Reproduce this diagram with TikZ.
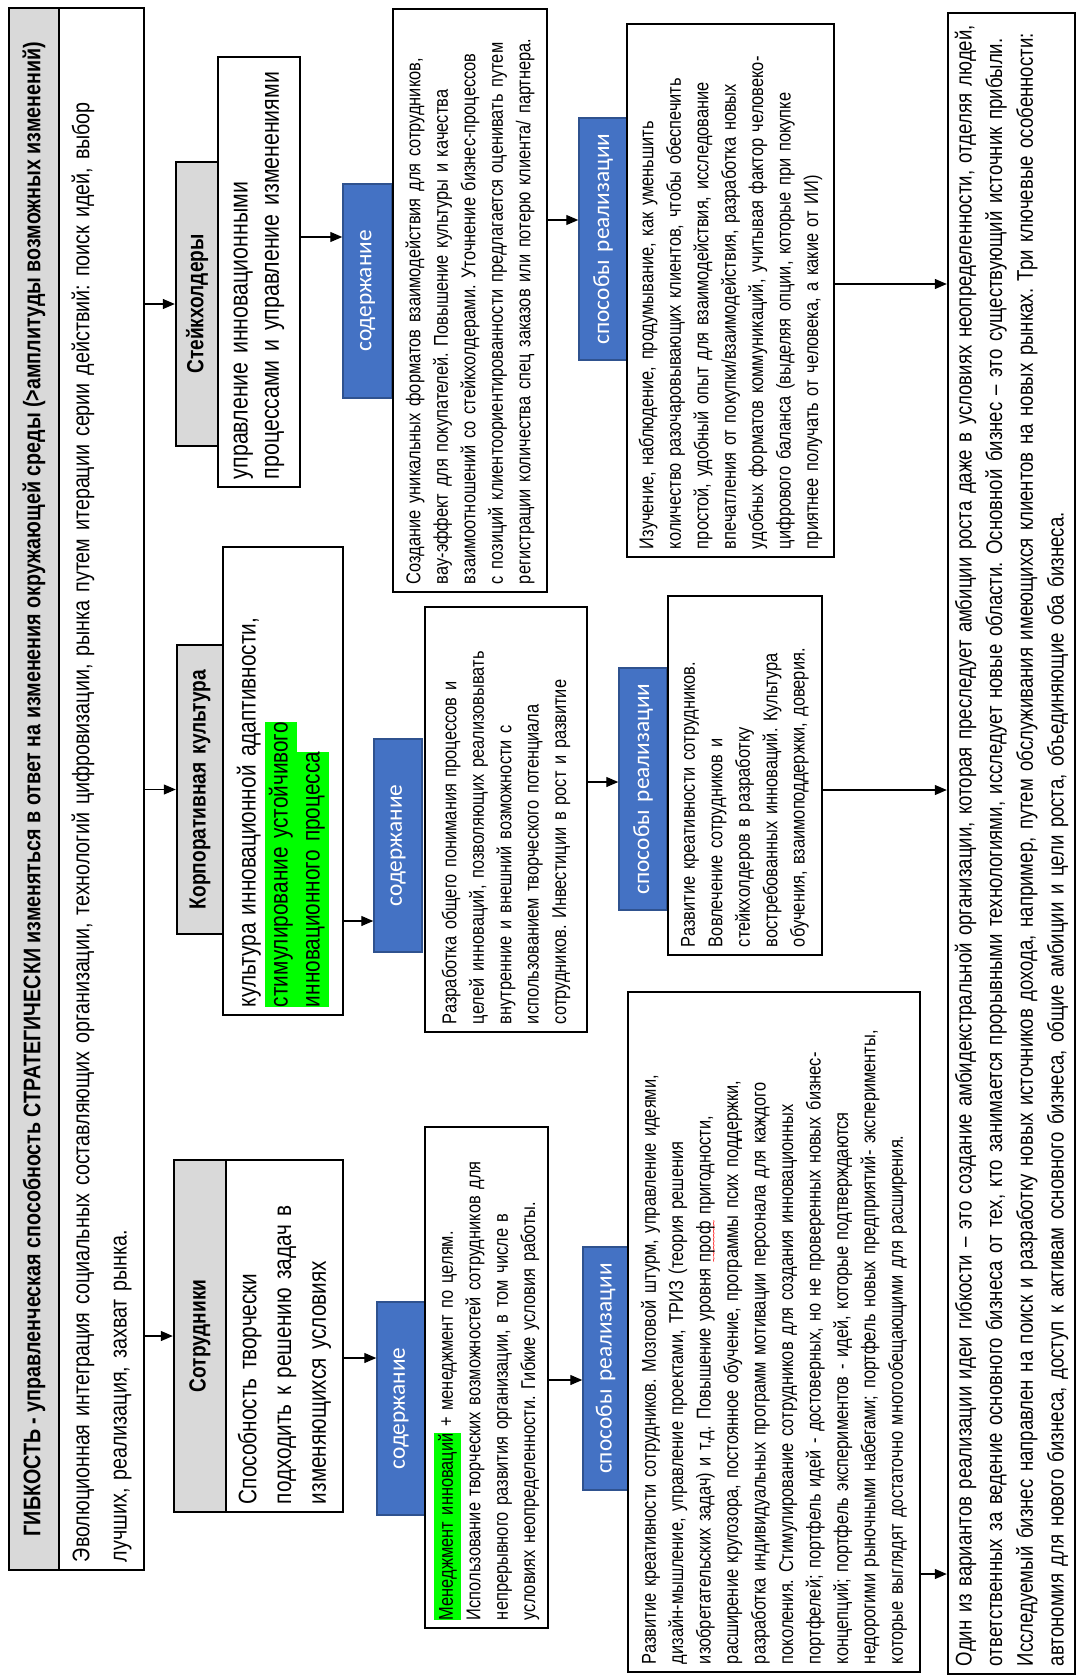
\documentclass[tikz,border=0pt]{standalone}
\usepackage{fontspec}
\setmainfont{Liberation Sans}[FakeStretch=0.82]
\newfontfamily\lblfont{Carlito}
\usetikzlibrary{arrows.meta}
\frenchspacing

\definecolor{hdrgray}{HTML}{D9D9D9}
\definecolor{tagblue}{HTML}{4472C4}
\definecolor{tagedge}{HTML}{2F528F}
\definecolor{hlgreen}{HTML}{00FF00}

% green text marker
\newcommand{\hlg}[1]{{\setlength{\fboxsep}{0pt}\colorbox{hlgreen}{\strut #1}}}
% red wavy spell-check mark under a word
\newlength\wavelen
\newcommand{\spellmark}[1]{\settowidth{\wavelen}{#1}\leavevmode
  \rlap{\raisebox{-5pt}{\textcolor{red}{\fontsize{8}{8}\selectfont
  \hbox to\wavelen{\xleaders\hbox{\textasciitilde\kern-0.8pt}\hfill}}}}#1}

% \panel{name}{style}{X1}{Y1}{X2}{Y2}{text}: a box read bottom-to-top,
% spanning X1..X2 across and Y1..Y2 along the text (pixel units, Y down)
\newcommand{\panel}[7]{%
  \pgfmathsetmacro\panelW{(#6-#4)*0.75}%
  \pgfmathsetmacro\panelH{(#5-#3)*0.75}%
  \pgfmathsetmacro\panelT{(#6-#4)*0.75-12}%
  \node[rotate=90, minimum width=\panelW pt, minimum height=\panelH pt,
        text width=\panelT pt, #2] (#1) at ({(#3+#5)/2},{(#4+#6)/2}) {#7};}

\tikzset{
  frame/.style={draw=black, line width=1.8pt, inner xsep=0pt, inner ysep=0pt},
  hdr/.style={frame, fill=hdrgray, align=center,
    font=\bfseries\fontsize{17.5}{20}\selectfont},
  box/.style={frame, fill=white, align=left,
    font=\fontsize{15}{20.6}\selectfont},
  tag/.style={draw=tagedge, line width=1.1pt, fill=tagblue, text=white,
    inner xsep=0pt, inner ysep=0pt, align=center,
    font=\lblfont\fontsize{17.5}{20}\selectfont},
  arr/.style={-{Triangle[length=9pt,width=7.5pt]}, line width=0.9pt}
}

\begin{document}
\begin{tikzpicture}[x=0.75pt, y=-0.75pt]
\useasboundingbox (0,0) rectangle (1078,1677);
\fill[white] (0,0) rectangle (1078,1677);

% ---- heading
\panel{titlebar}{hdr, text width={}, font=\bfseries\fontsize{18}{21}\selectfont}{9}{8}{59}{1570}{ГИБКОСТЬ - управленческая способность СТРАТЕГИЧЕСКИ изменяться в ответ на изменения окружающей среды (>амплитуды возможных изменений)}
\panel{titletext}{box, font=\fontsize{18}{28}\selectfont}{59}{8}{144}{1570}{Эволюционная интеграция социальных составляющих организации, технологий цифровизации, рынка путем итерации серии действий: поиск идей, выбор\\лучших, реализация, захват рынка.}

% ---- three directions
\panel{stakehdr}{hdr}{176}{162}{218}{446}{Стейкхолдеры}
\panel{stakecap}{box, font=\fontsize{19.5}{23.5}\selectfont}{218}{57}{300}{487}{управление инновационными\\процессами и управление изменениями}

\panel{culthdr}{hdr}{177}{645}{223}{934}{Корпоративная культура}
\panel{cultcap}{box, font=\fontsize{19}{24}\selectfont}{223}{547}{343}{1015}{культура инновационной адаптивности,\\\hlg{стимулирование устойчивого}\\\hlg{инновационного процесса}}

\panel{staffhdr}{hdr}{174}{1160}{226}{1512}{Сотрудники}
\panel{staffcap}{box, font=\fontsize{19}{26}\selectfont}{226}{1160}{343}{1512}{Способность творчески\\подходить к решению задач в\\изменяющихся условиях}

% ---- content labels and boxes
\panel{stakecont}{tag}{343}{184}{392}{398}{содержание}
\panel{cultcont}{tag}{374}{739}{422}{952}{содержание}
\panel{staffcont}{tag}{377}{1302}{425}{1515}{содержание}

\panel{stakeinfo}{box}{393}{9}{547}{592}{Создание уникальных форматов взаимодействия для сотрудников,\\вау-эффект для покупателей. Повышение культуры и качества\\взаимоотношений со стейкхолдерами. Уточнение бизнес-процессов\\с позиций клиентоориентированности предлагается оценивать путем\\регистрации количества спец заказов или потерю клиента/ партнера.}
\panel{cultinfo}{box}{425}{607}{587}{1032}{Разработка общего понимания процессов и\\целей инноваций, позволяющих реализовывать\\внутренние и внешний возможности с\\использованием творческого потенциала\\сотрудников. Инвестиции в рост и развитие}
\panel{staffinfo}{box}{425}{1127}{548}{1628}{\hlg{Менеджмент инноваций} + менеджмент по целям.\\Использование творческих возможностей сотрудников для\\непрерывного развития организации, в том числе в\\условиях неопределенности. Гибкие условия работы.}

% ---- implementation labels and boxes
\panel{stakemeth}{tag}{579}{118}{627}{360}{способы реализации}
\panel{cultmeth}{tag}{619}{668}{667}{910}{способы реализации}
\panel{staffmeth}{tag}{583}{1247}{628}{1490}{способы реализации}

\panel{stakeways}{box}{627}{24}{834}{557}{Изучение, наблюдение, продумывание, как уменьшить\\количество разочаровывающих клиентов, чтобы обеспечить\\простой, удобный опыт для взаимодействия, исследование\\впечатления от покупки/взаимодействия, разработка новых\\удобных форматов коммуникаций, учитывая фактор человеко-\\цифрового баланса (выделяя опции, которые при покупке\\приятнее получать от человека, а какие от ИИ)}
\panel{cultways}{box}{668}{596}{822}{955}{Развитие креативности сотрудников.\\Вовлечение сотрудников и\\стейкхолдеров в разработку\\востребованных инноваций. Культура\\обучения, взаимоподдержки, доверия.}
\panel{staffways}{box}{628}{992}{920}{1672}{Развитие креативности сотрудников. Мозговой штурм, управление идеями,\\дизайн-мышление, управление проектами, ТРИЗ (теория решения\\изобретательских задач) и т.д. Повышение уровня \spellmark{проф} пригодности,\\расширение кругозора, постоянное обучение, программы псих поддержки,\\разработка индивидуальных программ мотивации персонала для каждого\\поколения. Стимулирование сотрудников для создания инновационных\\портфелей; портфель идей - достоверных, но не проверенных новых бизнес-\\концепций; портфель экспериментов - идей, которые подтверждаются\\недорогими рыночными набегами; портфель новых предприятий- эксперименты,\\которые выглядят достаточно многообещающими для расширения.}

% ---- summary
\panel{summary}{box, font=\fontsize{17}{23}\selectfont}{948}{13}{1075}{1674}{Один из вариантов реализации идеи гибкости – это создание амбидекстральной организации, которая преследует амбиции роста даже в условиях неопределенности, отделяя людей,\\ответственных за ведение основного бизнеса от тех, кто занимается прорывными технологиями, исследует новые области. Основной бизнес – это существующий источник прибыли.\\Исследуемый бизнес направлен на поиск и разработку новых источников дохода, например, путем обслуживания имеющихся клиентов на новых рынках. Три ключевые особенности:\\автономия для нового бизнеса, доступ к активам основного бизнеса, общие амбиции и цели роста, объединяющие оба бизнеса.}

% ---- connectors
\draw[arr] (titletext.south |- stakehdr.north) -- (stakehdr.north);
\draw[arr] (titletext.south |- culthdr.north) -- (culthdr.north);
\draw[arr] (titletext.south |- staffhdr.north) -- (staffhdr.north);

\draw[arr] (stakecap.south |- 0,237) -- (stakecont.north |- 0,237);
\draw[arr] (cultcap.south |- 0,921) -- (cultcont.north |- 0,921);
\draw[arr] (staffcap.south |- 0,1358) -- (staffcont.north |- 0,1358);

\draw[arr] (stakeinfo.south |- 0,220) -- (stakemeth.north |- 0,220);
\draw[arr] (cultinfo.south |- 0,782) -- (cultmeth.north |- 0,782);
\draw[arr] (staffinfo.south |- 0,1380) -- (staffmeth.north |- 0,1380);

\draw[arr] (stakeways.south |- 0,284) -- (summary.north |- 0,284);
\draw[arr] (cultways.south |- 0,790) -- (summary.north |- 0,790);
\draw[arr] (staffways.south |- 0,1574) -- (summary.north |- 0,1574);
\end{tikzpicture}
\end{document}
